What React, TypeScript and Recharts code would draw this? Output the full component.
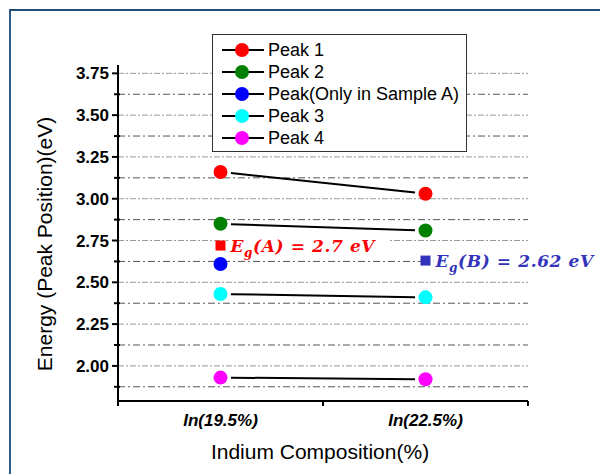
import { ComposedChart, Line, XAxis, YAxis, CartesianGrid, Legend } from 'recharts';

const categories = ['In(19.5%)', 'In(22.5%)'];

const peak1 = [3.16, 3.03];
const peak2 = [2.85, 2.81];
const peakOnlyA = [2.61, null];
const peak3 = [2.43, 2.41];
const peak4 = [1.93, 1.92];

// band gap markers, one per sample
const egSamples = ['A', 'B'];
const egPosition = [2.72, 2.63];
const egText = ['2.7', '2.62'];
const egColors = ['#ff0000', '#3333bb'];

const yMajorTicks = [2.0, 2.25, 2.5, 2.75, 3.0, 3.25, 3.5, 3.75];
const yMinorTicks = [1.875, 2.125, 2.375, 2.625, 2.875, 3.125, 3.375, 3.625];
const xTicks = [0.5, 1, 1.5, 2, 2.5];

const series = [
  { key: 'p1', name: 'Peak 1', color: '#ff0000', values: peak1 },
  { key: 'p2', name: 'Peak 2', color: '#008000', values: peak2 },
  { key: 'pA', name: 'Peak(Only in Sample A)', color: '#0000ff', values: peakOnlyA },
  { key: 'p3', name: 'Peak 3', color: '#00ffff', values: peak3 },
  { key: 'p4', name: 'Peak 4', color: '#ff00ff', values: peak4 },
];

const rows = categories.map((c, i) => {
  const row: Record<string, any> = { x: i + 1, name: c };
  series.forEach((s) => {
    row[s.key] = s.values[i];
  });
  egSamples.forEach((s, j) => {
    row['eg' + s] = i === j ? egPosition[j] : null;
  });
  return row;
});

const FONT = '"Liberation Sans", Arial, sans-serif';
const yTicks = [...yMinorTicks, ...yMajorTicks].sort((a, b) => a - b);

function YTick(props: any) {
  const { x, y, payload } = props;
  const major = yMajorTicks.includes(payload.value);
  return (
    <g>
      <line x1={x - (major ? 6 : 4)} x2={x + (major ? 0 : 2)} y1={y} y2={y} stroke="#000" strokeWidth={2} />
      {major && (
        <text x={x - 9} y={y} dy="0.36em" textAnchor="end" fontWeight="bold" fontSize={17} fill="#000" fontFamily={FONT}>
          {payload.value.toFixed(2)}
        </text>
      )}
    </g>
  );
}

function XTick(props: any) {
  const { x, y, payload } = props;
  const v = payload.value;
  if (Number.isInteger(v)) {
    return (
      <text x={x} y={y + 25} textAnchor="middle" fontWeight="bold" fontStyle="italic" fontSize={17} fill="#000" fontFamily={FONT}>
        {categories[v - 1]}
      </text>
    );
  }
  return <line x1={x} x2={x} y1={y} y2={y + 5} stroke="#000" strokeWidth={2} />;
}

function LegendBox() {
  return (
    <div style={{ width: 253, border: '1.5px solid #333', background: '#fff', padding: '4px 0 2px', fontFamily: FONT }}>
      {series.map((s) => (
        <div key={s.key} style={{ display: 'flex', alignItems: 'center', height: 22 }}>
          <svg width={54} height={22}>
            <line x1={9} x2={51} y1={11} y2={11} stroke="#000" strokeWidth={2} />
            <circle cx={29} cy={11} r={7} fill={s.color} />
          </svg>
          <span style={{ fontSize: 18, lineHeight: '22px', color: '#000', marginLeft: 1 }}>{s.name}</span>
        </div>
      ))}
    </div>
  );
}

function makeDot(color: string) {
  return (props: any) => {
    const { cx, cy, index } = props;
    if (cy == null) return <g key={index} />;
    return <circle key={index} cx={cx} cy={cy} r={7} fill={color} />;
  };
}

function makeSquare(color: string) {
  return (props: any) => {
    const { cx, cy, index } = props;
    if (cy == null) return <g key={index} />;
    return <rect key={index} x={cx - 5} y={cy - 5} width={10} height={10} fill={color} />;
  };
}

function makeEgLabel(j: number) {
  return (props: any) => {
    const { x, y, value } = props;
    if (value == null) return null;
    return (
      <g>
        <rect x={x + 8} y={y - 11} width={160} height={22} fill="#fff" />
        <text x={x + 10} y={y + 6} fill={egColors[j]} fontFamily='"DejaVu Serif", serif' fontStyle="italic" fontWeight="bold" fontSize={17} letterSpacing={0.6}>
          <tspan>E</tspan>
          <tspan fontSize={12} dy={5}>g</tspan>
          <tspan dy={-5}>{`(${egSamples[j]}) = ${egText[j]} eV`}</tspan>
        </text>
      </g>
    );
  };
}

export default function App() {
  return (
    <div style={{ position: 'absolute', left: 0, top: 0, width: 600, height: 474, overflow: 'hidden', background: '#fff' }}>
      <div style={{ position: 'absolute', left: 9, top: 9, width: 700, height: 600, borderLeft: '2px solid #2d5b88', borderTop: '2px solid #1f4e79' }} />
      <ComposedChart width={600} height={474} data={rows} margin={{ top: 65, right: 72, bottom: 0, left: 0 }} style={{ fontFamily: FONT }}>
        <CartesianGrid vertical={false} horizontalValues={yMajorTicks} stroke="#9a9a9a" strokeDasharray="6 2 2 2" />
        <CartesianGrid vertical={false} horizontalValues={yMinorTicks} stroke="#555" strokeDasharray="7 3 2 3" />
        <XAxis
          dataKey="x"
          type="number"
          domain={[0.5, 2.5]}
          ticks={xTicks}
          interval={0}
          height={73}
          tickSize={0}
          tickMargin={0}
          tickLine={false}
          tick={<XTick />}
          axisLine={{ stroke: '#000', strokeWidth: 2 }}
          label={{
            content: (p: any) => (
              <text x={p.viewBox.x + p.viewBox.width / 2 - 3} y={p.viewBox.y + 58} textAnchor="middle" fontSize={21} fill="#000" fontFamily={FONT}>
                Indium Composition(%)
              </text>
            ),
          }}
        />
        <YAxis
          type="number"
          domain={[1.79, 3.8]}
          ticks={yTicks}
          interval={0}
          width={118}
          tickSize={0}
          tickMargin={0}
          tickLine={false}
          tick={<YTick />}
          axisLine={{ stroke: '#000', strokeWidth: 2 }}
          label={{
            content: (p: any) => {
              const cx = p.viewBox.x + 45;
              const cy = p.viewBox.y + p.viewBox.height / 2 + 11;
              return (
                <text x={cx} y={cy} dy="0.35em" transform={`rotate(-90 ${cx} ${cy})`} textAnchor="middle" fontSize={21} fill="#000" fontFamily={FONT}>
                  Energy (Peak Position)(eV)
                </text>
              );
            },
          }}
        />
        <Legend layout="vertical" align="center" verticalAlign="middle" wrapperStyle={{ left: 212, top: 34, width: 'auto' }} content={() => <LegendBox />} />
        {series.map((s) => (
          <Line
            key={s.key}
            dataKey={s.key}
            name={s.name}
            stroke="#000"
            strokeWidth={2}
            pathLength={100}
            strokeDasharray="0 5.1 89.8 100"
            dot={makeDot(s.color)}
            activeDot={false}
            isAnimationActive={false}
          />
        ))}
        {egSamples.map((s, j) => (
          <Line
            key={s}
            dataKey={'eg' + s}
            stroke="none"
            dot={makeSquare(egColors[j])}
            activeDot={false}
            label={makeEgLabel(j)}
            legendType="none"
            isAnimationActive={false}
          />
        ))}
      </ComposedChart>
    </div>
  );
}
